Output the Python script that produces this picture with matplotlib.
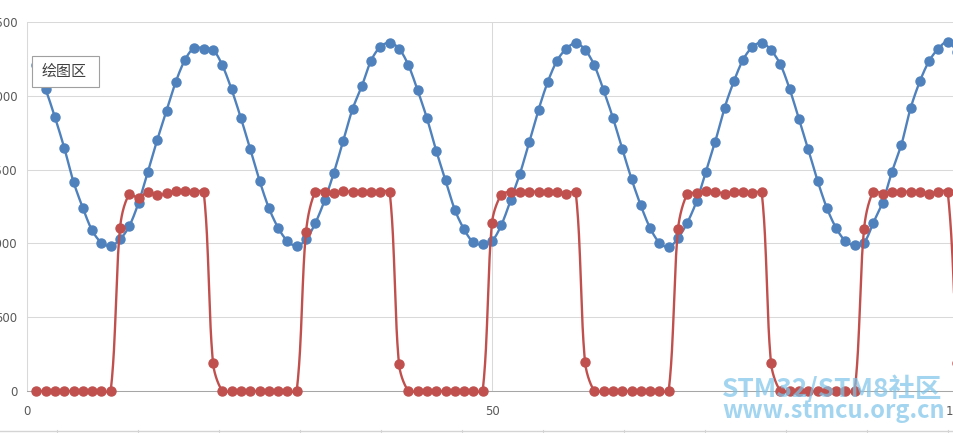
import numpy as np
import matplotlib
matplotlib.use("Agg")
import matplotlib.pyplot as plt
from matplotlib.patches import Rectangle
from matplotlib.lines import Line2D

# 1. Data (sample index 1..100)
sample = np.arange(1, 101)

blue_values = [
    2207, 2045, 1856, 1649, 1417, 1241, 1088, 1005, 982, 1027,
    1117, 1277, 1486, 1700, 1899, 2095, 2245, 2326, 2320, 2311,
    2207, 2043, 1849, 1640, 1426, 1241, 1106, 1016, 982, 1027,
    1137, 1291, 1480, 1694, 1910, 2065, 2239, 2333, 2360, 2320,
    2209, 2038, 1849, 1628, 1428, 1228, 1095, 1007, 993, 1016,
    1124, 1291, 1471, 1685, 1905, 2095, 2239, 2320, 2356, 2313,
    2207, 2038, 1851, 1642, 1437, 1257, 1104, 1005, 975, 1036,
    1140, 1286, 1486, 1689, 1917, 2097, 2245, 2331, 2360, 2309,
    2214, 2047, 1845, 1640, 1426, 1241, 1104, 1016, 986, 1005,
    1140, 1276, 1484, 1664, 1914, 2097, 2236, 2320, 2365, 2300,
]

red_values = [
    0, 0, 0, 0, 0, 0, 0, 0, 0, 1103,
    1333, 1306, 1351, 1326, 1340, 1356, 1353, 1349, 1351, 191,
    0, 0, 0, 0, 0, 0, 0, 0, 0, 1077,
    1351, 1351, 1340, 1356, 1347, 1345, 1349, 1349, 1349, 182,
    0, 0, 0, 0, 0, 0, 0, 0, 0, 1140,
    1331, 1349, 1351, 1351, 1351, 1351, 1351, 1338, 1349, 198,
    0, 0, 0, 0, 0, 0, 0, 0, 0, 1095,
    1335, 1340, 1353, 1351, 1338, 1349, 1349, 1340, 1347, 191,
    0, 0, 0, 0, 0, 0, 0, 0, 0, 1095,
    1351, 1338, 1349, 1351, 1351, 1351, 1338, 1349, 1351, 190,
]

x_ticks = [0, 50, 100]
y_ticks = [0, 500, 1000, 1500, 2000, 2500]

BLUE = "#4F81BD"
RED = "#C0504D"

W, H = 954, 433
X_SCALE = 930 / 100    # pixels per x unit
Y_SCALE = 369 / 2500   # pixels per y unit


# 2. Excel-like smoothed line: Bezier segments, tangents worked out in pixel space
def smooth(x, y, k=0.3, steps=24):
    px = np.asarray(x, float) * X_SCALE
    py = np.asarray(y, float) * Y_SCALE
    n = len(px)
    tang = []
    for i in range(n):
        a = max(i - 1, 0)
        b = min(i + 1, n - 1)
        d = np.array([px[b] - px[a], py[b] - py[a]])
        tang.append(d / (np.hypot(*d) or 1))
    t = np.linspace(0, 1, steps)[1:]
    xs, ys = [px[0]], [py[0]]
    for i in range(n - 1):
        p0 = np.array([px[i], py[i]])
        p3 = np.array([px[i + 1], py[i + 1]])
        L = np.hypot(*(p3 - p0))
        c1 = p0 + tang[i] * L * k
        c2 = p3 - tang[i + 1] * L * k
        pts = ((1 - t)[:, None] ** 3 * p0 + 3 * ((1 - t) ** 2 * t)[:, None] * c1
               + 3 * ((1 - t) * t ** 2)[:, None] * c2 + (t ** 3)[:, None] * p3)
        xs.extend(pts[:, 0])
        ys.extend(pts[:, 1])
    return np.array(xs) / X_SCALE, np.array(ys) / Y_SCALE


# 3. Figure: the picture is a crop, so the axes run past the right edge
fig = plt.figure(figsize=(W / 100, H / 100), dpi=100)
ax = fig.add_axes([27 / W, 42 / H, 930 / W, 369 / H])

ax.set_xlim(0, 100)
ax.set_ylim(0, 2500)
ax.set_xticks(x_ticks)
ax.set_yticks(y_ticks)
ax.grid(True, color="#d9d9d9", linewidth=0.75)
ax.set_axisbelow(True)
for side in ["top", "right"]:
    ax.spines[side].set_visible(False)
ax.spines["left"].set_color("#d9d9d9")
ax.spines["bottom"].set_color("#a6a6a6")
ax.spines["left"].set_linewidth(0.75)
ax.spines["bottom"].set_linewidth(0.75)
ax.tick_params(axis="y", length=0, pad=7, labelsize=8.5, labelcolor="#595959")
ax.tick_params(axis="x", length=0, pad=10, labelsize=8.5, labelcolor="#595959")

# 4. Series: blue first, red on top
bx, by = smooth(sample, blue_values)
ax.plot(bx, by, color=BLUE, linewidth=1.7, clip_on=False, zorder=3)
ax.plot(sample, blue_values, "o", color=BLUE, markersize=6.5, clip_on=False, zorder=3)
rx, ry = smooth(sample, red_values)
ax.plot(rx, ry, color=RED, linewidth=1.7, clip_on=False, zorder=4)
ax.plot(sample, red_values, "o", color=RED, markersize=6.5, clip_on=False, zorder=4)

# 5. "绘图区" tooltip box
fig.add_artist(Rectangle((32 / W, 1 - 87 / H), 67 / W, 31 / H, transform=fig.transFigure,
                         facecolor="white", edgecolor="#a0a0a0", linewidth=0.8, zorder=5))
fig.text(42 / W, 1 - 72 / H, "绘图区", family=["Noto Sans CJK SC", "DejaVu Sans"],
         fontsize=10.8, color="#404040", va="center", ha="left", zorder=6)

# 6. Spreadsheet edge below the chart
fig.add_artist(Line2D([0, 1], [1 - 430.5 / H] * 2, transform=fig.transFigure,
                      color="#d4d4d4", linewidth=1))
for px in [57, 138, 219, 300, 381, 462, 543, 624, 705, 786, 867, 948]:
    fig.add_artist(Line2D([px / W] * 2, [1 - 430 / H, 0], transform=fig.transFigure,
                          color="#d4d4d4", linewidth=0.8))

# 7. Watermark
wm = dict(family=["Noto Sans CJK SC", "DejaVu Sans"], fontweight="bold",
          color="#7cc4ea", alpha=0.7, ha="left", va="baseline", zorder=10)
fig.text(722 / W, 1 - 397 / H, "STM32/STM8社区", fontsize=19, **wm)
fig.text(722 / W, 1 - 418 / H, "www.stmcu.org.cn", fontsize=17, **wm)

plt.savefig("out.png", dpi=100)
